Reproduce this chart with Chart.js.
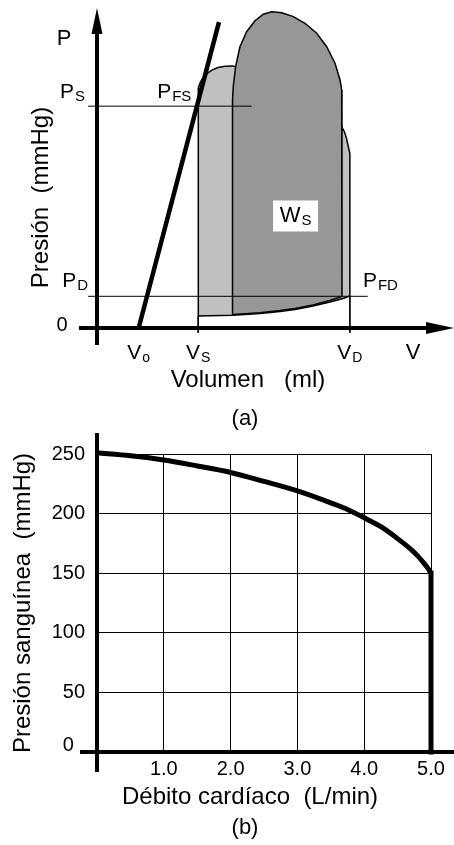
<!DOCTYPE html>
<html>
<head>
<meta charset="utf-8">
<script src="https://cdn.jsdelivr.net/npm/chart.js@4"></script>
<style>
  html, body { margin: 0; padding: 0; background: #fff; }
  #wrap { position: relative; width: 454px; height: 845px; }
  canvas { position: absolute; left: 0; }
  #pv { top: 0; }
  #co { top: 420px; }
</style>
</head>
<body>
<div id="wrap">
  <canvas id="pv" width="454" height="440"></canvas>
  <canvas id="co" width="454" height="425"></canvas>
</div>
<script>
// ---- (a) presión-volumen (unidades arbitrarias) ----
const volTicks = [28, 68, 170];            // Vo, Vs, VD
const volTickMain = ['V', 'V', 'V'];
const volTickSub = ['o', 'S', 'D'];
const presSys = 140;                        // PS
const presDia = 20;                         // PD

const espvrV = [28, 82];
const espvrP = [0, 193];

// zona gris clara (contorno cerrado)
const lightV = [68, 68, 68.2, 69.6, 71.3, 73.9, 77.3, 81.3, 86.1, 91.4, 136, 163.4, 166.1, 167.7, 168.7, 170, 170,
                165.4, 156.6, 145.2, 133.1, 123, 109.6, 99.5, 90.8, 68];
const lightP = [7.6, 145.8, 151.5, 155.3, 157.8, 160.6, 162.8, 164.4, 165.2, 165.4, 150, 128.7, 124.3, 119.9, 115.5, 110, 20.2,
                18.6, 16.4, 13.9, 11.7, 10.4, 9.2, 8.5, 8.1, 7.6];

// zona gris oscura (trabajo sistólico)
const darkV = [91.1, 91.1, 91.6, 93.2, 96.1, 100.6, 106.2, 111.8, 117.4, 124.2, 132, 139.8, 147.7, 154.4, 160, 163.4, 164.5, 164.7,
               156.6, 145.2, 133.1, 123, 109.6, 99.5, 91.1];
const darkP = [8.5, 143.9, 152.3, 164.9, 177.5, 187, 193.9, 198, 199.6, 199, 196.5, 192.3, 186, 177.5, 167.1, 156.5, 150.2, 19.9,
               17.4, 14.5, 12.3, 11, 9.6, 9, 8.5];

// ---- (b) presión vs débito ----
const cardiacOutput = [0, 0.5, 1, 1.5, 2, 2.5, 3, 3.5, 3.75, 4, 4.25, 4.5, 4.7, 4.8, 4.9, 4.95, 5];
const bloodPressure = [251, 248.5, 245, 240, 234.5, 227, 219, 209, 203.5, 196.5, 189, 179, 170, 164.5, 158, 154.5, 150];
const maxOutput = 5;
const outputTicks = [0, 1, 2, 3, 4, 5];
const pressureTicks = [0, 50, 100, 150, 200, 250];

const FONT = '"Liberation Sans", Arial, Helvetica, sans-serif';

function pts(xs, ys) {
  return xs.map((x, i) => ({x: x, y: ys[i]}));
}

function subText(ctx, main, sub, x, y, align, big, small) {
  big = big || 21; small = small || 15;
  ctx.font = big + 'px ' + FONT;
  const w1 = ctx.measureText(main).width;
  ctx.font = small + 'px ' + FONT;
  const w2 = ctx.measureText(sub).width;
  let x0 = x;
  if (align === 'right') x0 = x - w1 - w2 - 1;
  if (align === 'center') x0 = x - (w1 + w2 + 1) / 2;
  ctx.textAlign = 'left';
  ctx.textBaseline = 'alphabetic';
  ctx.font = big + 'px ' + FONT;
  ctx.fillText(main, x0, y);
  ctx.font = small + 'px ' + FONT;
  ctx.fillText(sub, x0 + w1 + 1, y + 3);
}

function text(ctx, s, x, y, size, align) {
  ctx.font = size + 'px ' + FONT;
  ctx.textAlign = align || 'center';
  ctx.textBaseline = 'middle';
  ctx.fillText(s, x, y);
}

const pvDecor = {
  id: 'pvDecor',
  afterDraw(chart) {
    const ctx = chart.ctx;
    const xs = chart.scales.x, ys = chart.scales.y;
    const x0 = xs.getPixelForValue(0), y0 = ys.getPixelForValue(0);
    const right = chart.chartArea.right;
    ctx.save();
    ctx.fillStyle = '#000';
    ctx.strokeStyle = '#000';
    ctx.lineWidth = 4;
    // eje P
    ctx.beginPath();
    ctx.moveTo(x0, y0 + 17);
    ctx.lineTo(x0, 30);
    ctx.stroke();
    ctx.beginPath();
    ctx.moveTo(x0, 8);
    ctx.lineTo(x0 - 5.5, 34);
    ctx.lineTo(x0 + 5.5, 34);
    ctx.closePath();
    ctx.fill();
    // eje V
    ctx.beginPath();
    ctx.moveTo(x0 - 18, y0);
    ctx.lineTo(right - 26, y0);
    ctx.stroke();
    ctx.beginPath();
    ctx.moveTo(right, y0);
    ctx.lineTo(right - 28, y0 - 6);
    ctx.lineTo(right - 28, y0 + 6);
    ctx.closePath();
    ctx.fill();

    // etiquetas de ejes
    const yPs = ys.getPixelForValue(presSys), yPd = ys.getPixelForValue(presDia);
    subText(ctx, 'P', 'S', x0 - 12, yPs - 8, 'right');
    subText(ctx, 'P', 'D', x0 - 9, yPd - 9, 'right');
    text(ctx, '0', x0 - 35, y0 - 3, 20, 'center');
    text(ctx, 'P', x0 - 33, 39, 22);
    text(ctx, 'V', 413, y0 + 25, 22);
    volTicks.forEach((v, i) => {
      subText(ctx, volTickMain[i], volTickSub[i], xs.getPixelForValue(v), y0 + 31, 'center', 21, 14);
    });
    const xVs = xs.getPixelForValue(volTicks[1]), xVd = xs.getPixelForValue(volTicks[2]);
    subText(ctx, 'P', 'FS', xVs - 41, yPs - 8, 'left');
    subText(ctx, 'P', 'FD', xVd + 13, yPd - 9, 'left');

    // W_S
    const wx = xs.getPixelForValue(133.5), wy = ys.getPixelForValue(71);
    ctx.fillStyle = '#fff';
    ctx.fillRect(wx - 22.5, wy - 15, 45, 31);
    ctx.fillStyle = '#000';
    subText(ctx, 'W', 'S', wx, wy + 7, 'center', 22, 15);

    text(ctx, 'Volumen   (ml)', 248, 380, 24);
    text(ctx, '(a)', 245, 419, 22);

    ctx.save();
    ctx.translate(41.5, 197.5);
    ctx.rotate(-Math.PI / 2);
    text(ctx, 'Presión  (mmHg)', 0, 0, 24);
    ctx.restore();
    ctx.restore();
  }
};

new Chart(document.getElementById('pv'), {
  type: 'scatter',
  data: {
    datasets: [
      { data: pts(lightV, lightP), showLine: true, fill: 'shape', backgroundColor: '#c0c0c0',
        borderColor: '#000', borderWidth: 1.5, pointRadius: 0, order: 9, clip: false },
      { data: pts(darkV, darkP), showLine: true, fill: 'shape', backgroundColor: '#979797',
        borderColor: '#000', borderWidth: 1.5, pointRadius: 0, order: 8, clip: false },
      { data: [{x: -6, y: presSys}, {x: 104, y: presSys}], showLine: true, borderColor: '#000',
        borderWidth: 1, pointRadius: 0, order: 3, clip: false },
      { data: [{x: -6, y: presDia}, {x: 182, y: presDia}], showLine: true, borderColor: '#000',
        borderWidth: 1, pointRadius: 0, order: 3, clip: false },
      { data: [{x: volTicks[1], y: 7.6}, {x: volTicks[1], y: -3}], showLine: true, borderColor: '#000',
        borderWidth: 1, pointRadius: 0, order: 3, clip: false },
      { data: [{x: volTicks[2], y: presDia}, {x: volTicks[2], y: -3}], showLine: true, borderColor: '#000',
        borderWidth: 1, pointRadius: 0, order: 3, clip: false },
      { data: pts(espvrV, espvrP), showLine: true, borderColor: '#000', borderWidth: 4.5,
        pointRadius: 0, order: 1, clip: false }
    ]
  },
  options: {
    responsive: false,
    animation: false,
    layout: { padding: { left: 97, right: 0, top: 0, bottom: 112 } },
    scales: {
      x: { type: 'linear', min: 0, max: 240, display: false },
      y: { type: 'linear', min: 0, max: 207, display: false }
    },
    plugins: { legend: { display: false }, tooltip: { enabled: false } }
  },
  plugins: [pvDecor]
});

const coDecor = {
  id: 'coDecor',
  afterDraw(chart) {
    const ctx = chart.ctx;
    const x0 = chart.scales.x.getPixelForValue(0), y0 = chart.scales.y.getPixelForValue(0);
    ctx.save();
    ctx.strokeStyle = '#000';
    ctx.fillStyle = '#000';
    ctx.lineWidth = 4;
    ctx.beginPath();
    ctx.moveTo(x0, 13);
    ctx.lineTo(x0, y0 + 20);
    ctx.stroke();
    ctx.beginPath();
    ctx.moveTo(x0 - 17, y0);
    ctx.lineTo(chart.width, y0);
    ctx.stroke();
    text(ctx, 'Débito cardíaco  (L/min)', 250, 377, 24);
    text(ctx, '(b)', 245, 408, 22);
    ctx.restore();
  }
};

const tickFont = (c) => ({ family: FONT, size: 20, lineHeight: (c.tick && c.tick.value === 0) ? 0.7 : 1.2 });

new Chart(document.getElementById('co'), {
  type: 'scatter',
  data: {
    datasets: [{
      data: pts(cardiacOutput, bloodPressure),
      showLine: true,
      borderColor: '#000',
      borderWidth: 5,
      pointRadius: 0,
      cubicInterpolationMode: 'monotone',
      clip: false
    }, {
      data: [{x: maxOutput, y: bloodPressure[bloodPressure.length - 1]}, {x: maxOutput, y: 0}],
      showLine: true,
      borderColor: '#000',
      borderWidth: 5,
      borderCapStyle: 'square',
      pointRadius: 0,
      clip: false
    }]
  },
  options: {
    responsive: false,
    animation: false,
    layout: { padding: { left: 0, right: 23, top: 34, bottom: 0 } },
    scales: {
      x: {
        type: 'linear', min: 0, max: 5,
        afterBuildTicks: (s) => { s.ticks = outputTicks.map(v => ({ value: v })); },
        afterFit: (s) => { s.height = 93; },
        ticks: { color: '#000', font: { family: FONT, size: 20 }, padding: 5, maxRotation: 0,
                 callback: (v) => v === 0 ? '' : v.toFixed(1) },
        grid: { color: '#000', lineWidth: 1, drawTicks: false },
        border: { display: false }
      },
      y: {
        type: 'linear', min: 0, max: 250,
        afterBuildTicks: (s) => { s.ticks = pressureTicks.map(v => ({ value: v })); },
        afterFit: (s) => { s.width = 97; },
        ticks: { color: '#000', font: tickFont, padding: 12,
                 callback: (v) => v === 0 ? ['0  ', ''] : String(v) },
        grid: { color: '#000', lineWidth: 1, drawTicks: false },
        border: { display: false },
        title: { display: true, text: 'Presión sanguínea  (mmHg)', color: '#000',
                 font: { family: FONT, size: 24 }, padding: { top: 9, bottom: 0 } }
      }
    },
    plugins: { legend: { display: false }, tooltip: { enabled: false } }
  },
  plugins: [coDecor]
});
</script>
</body>
</html>
